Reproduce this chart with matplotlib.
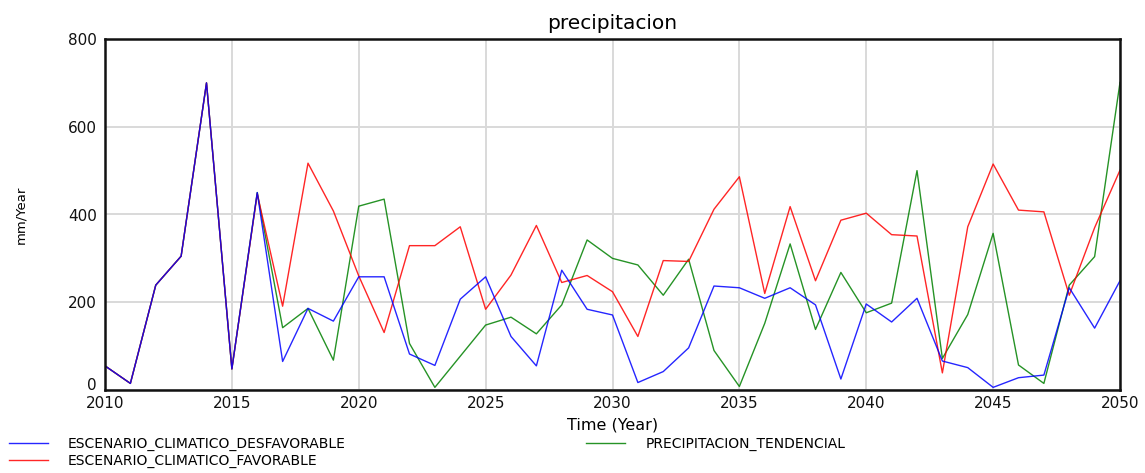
import numpy as np
import matplotlib.pyplot as plt

plt.rcParams['font.family'] = ['DejaVu Sans']

years = np.arange(2010, 2051)

desfavorable = [55, 15, 239, 305, 700, 48, 450, 65, 186, 157,
                258, 258, 82, 56, 207, 258, 122, 55, 273, 184,
                171, 17, 42, 96, 237, 233, 209, 233, 194, 25,
                196, 155, 209, 66, 51, 6, 28, 34, 233, 141, 249]

favorable = [55, 15, 239, 305, 700, 48, 447, 191, 517, 408,
             260, 131, 329, 329, 372, 184, 262, 375, 245, 261,
             224, 122, 295, 293, 412, 486, 220, 418, 249, 387,
             403, 354, 351, 39, 372, 515, 410, 406, 216, 370, 501]

tendencial = [55, 15, 239, 305, 700, 48, 450, 142, 186, 68,
              419, 435, 106, 6, 77, 148, 166, 128, 194, 342,
              300, 285, 216, 298, 90, 8, 152, 333, 138, 268,
              176, 198, 500, 72, 172, 357, 57, 15, 239, 304, 701]

labels = ['ESCENARIO_CLIMATICO_DESFAVORABLE', 'ESCENARIO_CLIMATICO_FAVORABLE',
          'PRECIPITACION_TENDENCIAL']

W, H = 1145, 473
fig = plt.figure(figsize=(W / 100, H / 100), dpi=100, facecolor='white')
ax = fig.add_axes([105 / W, 1 - 390 / H, 1015 / W, 351 / H])

l_t, = ax.plot(years, tendencial, color='#008000', linewidth=1, alpha=0.85)
l_f, = ax.plot(years, favorable, color='#ff0000', linewidth=1, alpha=0.85)
l_d, = ax.plot(years, desfavorable, color='#0000ff', linewidth=1, alpha=0.85)

ax.set_xlim(2010, 2050)
ax.set_ylim(0, 800)
ax.set_xticks(np.arange(2010, 2051, 5))
ax.set_yticks(np.arange(0, 801, 200))
ax.grid(True, color='#d9d9d9', linewidth=1.4)
ax.set_axisbelow(True)
ax.tick_params(axis='both', length=0, labelsize=11, colors='#111111')
ax.tick_params(axis='x', pad=4)
ax.tick_params(axis='y', pad=6)
# the "0" sits on the axis line, just above the 2010 label
ax.yaxis.get_major_ticks()[0].label1.set_va('baseline')
for s in ax.spines.values():
    s.set_linewidth(1.8)
    s.set_color('#111111')

ax.set_title('precipitacion', fontsize=14.5, pad=7)
ax.set_xlabel('Time (Year)', fontsize=11.5, labelpad=5)
ax.set_ylabel('mm/Year', fontsize=9.5, labelpad=29)

fig.legend([l_d, l_f, l_t], labels,
           loc='upper left', bbox_to_anchor=(9 / W, 1 - 437 / H), ncol=2,
           frameon=False, fontsize=10, borderpad=0, borderaxespad=0,
           handlelength=2.8, handletextpad=1.45, columnspacing=17.3,
           labelspacing=0.2)

fig.savefig('out.png', dpi=100, facecolor='white')
